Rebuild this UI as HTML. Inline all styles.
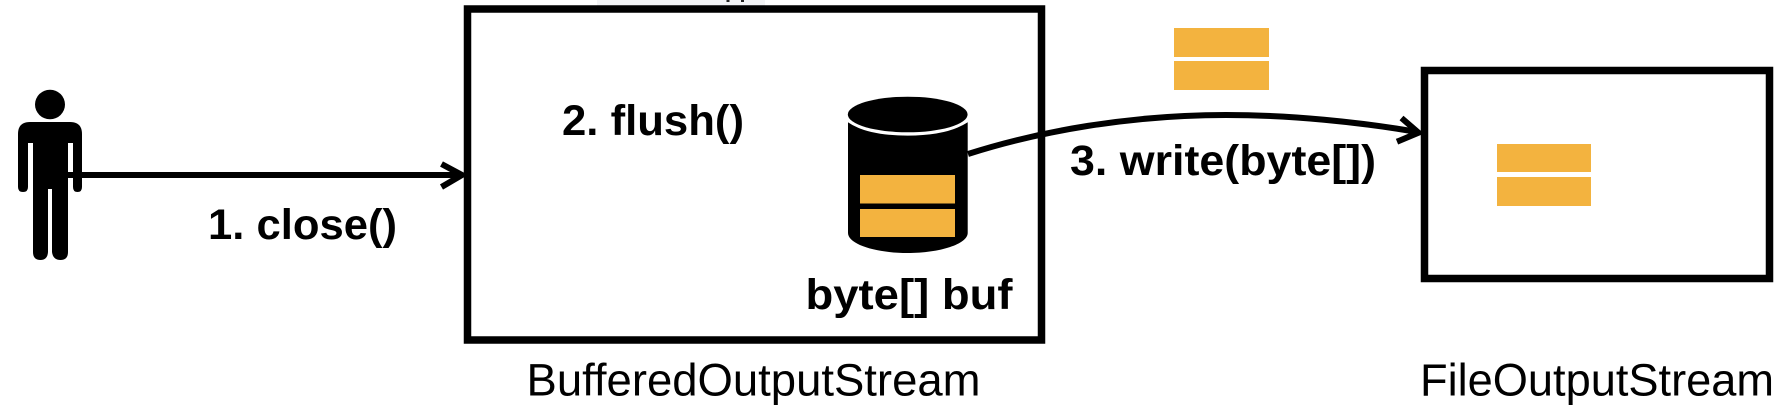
<!DOCTYPE html>
<html><head><meta charset="utf-8"><style>
html,body{margin:0;padding:0;background:#fff;width:1788px;height:416px;overflow:hidden}
svg{display:block}
text{font-family:"Liberation Sans",Arial,sans-serif;fill:#000}
.b{font-weight:700;font-size:43px}
.r{font-size:45px}
</style></head><body>
<svg width="1788" height="416" viewBox="0 0 1788 416" xmlns="http://www.w3.org/2000/svg">
<rect width="1788" height="416" fill="#fff"/>
<rect x="597" y="0" width="168" height="6" fill="#f2f3f5"/>
<rect x="467.500" y="9" width="574" height="331" fill="none" stroke="#000" stroke-width="7.500"/>
<rect x="1424.500" y="70.500" width="345" height="208" fill="none" stroke="#000" stroke-width="7.500"/>
<!-- person -->
<ellipse cx="50" cy="104.500" rx="15" ry="14.800" fill="#000"/>
<path d="M30 122H70Q82 122 82 134V187Q82 192 77.500 192Q73 192 73 187V143H68V252Q68 260 60.500 260Q53 260 52 252V189H48V252Q47.500 260 40.500 260Q33 260 33 252V143H28V187Q28 192 23 192Q18 192 18 187V134Q18 122 30 122Z" fill="#000"/>
<path d="M68 175H461" stroke="#000" stroke-width="6" fill="none"/>
<path d="M441.500 164L462 175L441.500 187" stroke="#000" stroke-width="6" fill="none"/>
<!-- cylinder -->
<path d="M848 122V233C848 244 875 253 907.700 253C940 253 967.700 244 967.700 233V122C955 130 935 134.500 907.700 134.500C880 134.500 860 130 848 122Z" fill="#000"/>
<path d="M848 121C860 129.500 880 134.500 907.700 134.500C935 134.500 955 129.500 967.700 121" fill="none" stroke="#fff" stroke-width="2.200"/>
<ellipse cx="907.700" cy="114.500" rx="59.900" ry="17.800" fill="#000"/>
<rect x="860" y="175" width="95" height="28.500" fill="#f3b33f"/>
<rect x="860" y="209" width="95" height="28" fill="#f3b33f"/>
<!-- curve -->
<path d="M968 154C1040 131 1130 115 1226 115C1290 115 1360 122 1417 132" stroke="#000" stroke-width="6" fill="none"/>
<path d="M1401.500 118L1418.500 132.700L1397 141.700" stroke="#000" stroke-width="6" fill="none"/>
<!-- packets -->
<rect x="1174" y="28" width="95" height="29" fill="#f3b33f"/>
<rect x="1174" y="61" width="95" height="29" fill="#f3b33f"/>
<rect x="1497" y="144" width="94" height="28" fill="#f3b33f"/>
<rect x="1497" y="177" width="94" height="29" fill="#f3b33f"/>
<!-- marks of clipped text -->
<rect x="726.500" y="0" width="3" height="2" fill="#222"/>
<rect x="741" y="0" width="3" height="2" fill="#222"/>
<!-- labels -->
<text class="b" x="208" y="239" textLength="189" lengthAdjust="spacingAndGlyphs">1. close()</text>
<text class="b" x="562" y="135" textLength="182" lengthAdjust="spacingAndGlyphs">2. flush()</text>
<text class="b" x="805.500" y="309" textLength="207" lengthAdjust="spacingAndGlyphs">byte[] buf</text>
<text class="b" x="1070" y="175" textLength="306" lengthAdjust="spacingAndGlyphs">3. write(byte[])</text>
<text class="r" x="526.500" y="395.500" textLength="454" lengthAdjust="spacingAndGlyphs">BufferedOutputStream</text>
<text class="r" x="1420" y="395.500" textLength="354" lengthAdjust="spacingAndGlyphs">FileOutputStream</text>
</svg>
</body></html>
